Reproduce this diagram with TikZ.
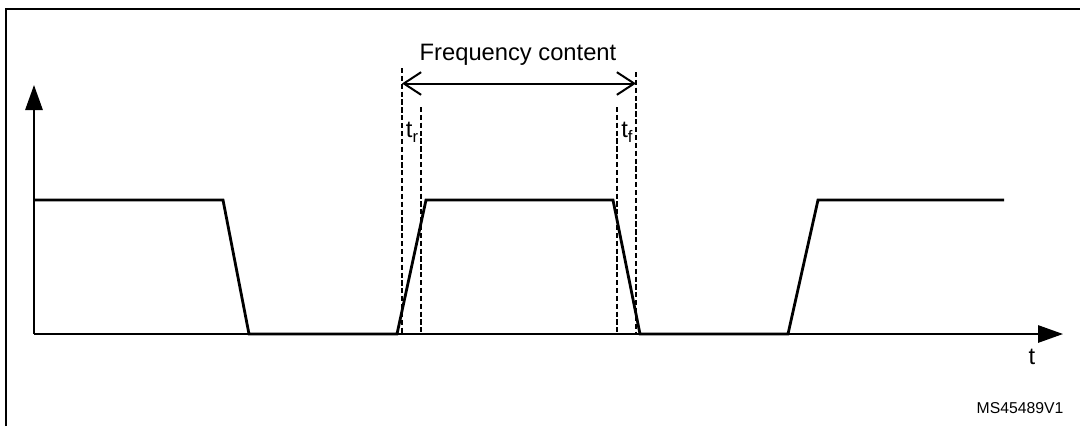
\documentclass[tikz,border=0pt]{standalone}
\usepackage{fontspec}
\setmainfont{Liberation Sans}
\usetikzlibrary{arrows.meta}
\newcommand{\subtx}[1]{\raisebox{-0.22em}{\fontsize{12.5pt}{14pt}\selectfont #1}}
\begin{document}
\begin{tikzpicture}[x=0.75pt,y=-0.75pt,
  frame/.style={line width=2.1pt},
  axis/.style={line width=1.4pt,-{Triangle[length=18.75pt,width=13pt]}},
  wave/.style={line width=2.1pt,line join=miter},
  guide/.style={line width=1.7pt,dash pattern=on 3.9pt off 2pt},
  span/.style={line width=1.5pt,{Straight Barb[length=13pt,width=17pt]}-{Straight Barb[length=13pt,width=17pt]}},
  lbl/.style={inner sep=0pt,font=\fontsize{17.8pt}{20pt}\selectfont},
  small/.style={inner sep=0pt,font=\fontsize{11.8pt}{14pt}\selectfont}]
\useasboundingbox (0,0) rectangle (1080,426);
% frame
\draw[frame] (6,426) -- (6,9) -- (1080,9);
% axes
\coordinate (o) at (34,334);
\coordinate (ytip) at (34,85);
\coordinate (xtip) at (1063,334);
\draw[axis] (o) -- (ytip);
\draw[axis] (o) -- (xtip);
\node[lbl] (t) at (1032,357) {t};
\node[small] (ms) at (1020,408) {MS45489V1};
% waveform
\draw[wave] (34,200) -- (223,200) -- (249,334) -- (397,334) -- (426,200)
  -- (613,200) -- (640,334) -- (788,334) -- (818,200) -- (1004,200);
% guides
\coordinate (g1t) at (402,68);  \coordinate (g1b) at (402,334);
\coordinate (g2t) at (421,107); \coordinate (g2b) at (421,334);
\coordinate (g3t) at (617,107); \coordinate (g3b) at (617,334);
\coordinate (g4t) at (636,72);  \coordinate (g4b) at (636,334);
\draw[guide] (g1t) -- (g1b);
\draw[guide] (g2t) -- (g2b);
\draw[guide] (g3t) -- (g3b);
\draw[guide] (g4t) -- (g4b);
\coordinate (aL) at (402,83.5);
\coordinate (aR) at (636,83.5);
\draw[span] (aL) -- (aR);
\node[lbl] (fc) at (518,55) {Frequency content};
\node[lbl] (tr) at (412,132) {t\subtx{r}};
\node[lbl] (tf) at (627,132) {t\subtx{f}};
\end{tikzpicture}
\end{document}
